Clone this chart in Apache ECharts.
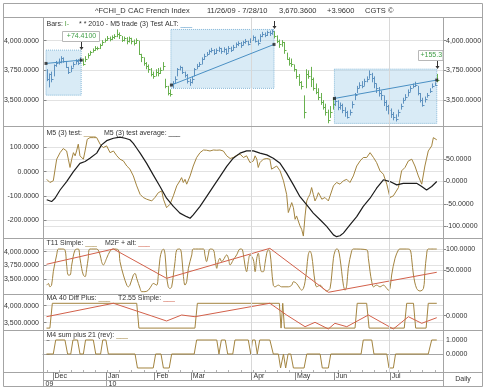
<!DOCTYPE html>
<html><head><meta charset="utf-8">
<script src="https://cdn.jsdelivr.net/npm/echarts@6/dist/echarts.min.js"></script>
<style>html,body{margin:0;padding:0;background:#fff}#c{width:490px;height:390px}</style>
</head><body><div id="c"></div><script>
// ---------------- DATA ----------------
const monthNames = ['Dec','Jan','Feb','Mar','Apr','May','Jun','Jul'];
const monthStarts = [3, 25, 45, 60, 85, 103, 119, 142];   // day index of first bar of month
const yearNames = ['09','10'];
const yearStarts = [0, 25];
const quarterStarts = [85, 142];

const closes = [3679,3721,3680,3793,3810,3822,3856,3832,3777,3740,3771,3806,3830,3816,3837,
3800,3850,3880,3905,3925,3940,3935,3960,
3990,4010,4025,4015,4030,4040,4060,4045,4010,4025,3995,4020,4000,3985,4010,3890,
3860,3810,3790,3760,3720,3700,3740,3730,3750,3790,3620,3560,3550,
3640,3680,3760,3775,3740,3715,3665,3650,3680,3760,3790,3800,3850,3870,3890,3910,3925,3900,3920,3935,3910,3930,3900,3940,3925,3950,3970,3985,3960,3990,4000,3975,4010,4030,4000,3985,4040,4060,4050,4075,4065,4085,
4040,4000,3970,3990,3920,3850,3810,3800,3760,3700,3650,3620,3400,3720,3700,3680,3600,3570,3530,3480,3440,3400,3330,3400,3470,
3490,3440,3460,3420,3400,3360,3400,3470,3540,3600,3630,3620,3660,3680,3720,3690,3640,3600,3560,3540,3480,3450,3420,3380,3360,3340,3400,3450,3500,3530,3570,3600,3620,3630,3560,3500,3460,3510,3540,3580,3620,3630,3670];
const highs = [3760,3725,3740,3800,3830,3850,3870,3860,3830,3780,3790,3820,3845,3845,3860,
3850,3870,3895,3915,3935,3955,3950,3975,
4005,4020,4040,4035,4045,4055,4095,4070,4040,4035,4030,4035,4025,4010,4020,4000,
3890,3860,3820,3800,3770,3740,3760,3770,3775,3820,3680,3620,3590,
3660,3700,3770,3790,3780,3740,3720,3680,3700,3770,3805,3820,3860,3890,3905,3925,3940,3930,3935,3950,3940,3945,3935,3955,3950,3965,3985,3995,3990,4000,4015,4000,4020,4045,4035,4010,4055,4075,4070,4085,4085,4095,
4080,4045,4010,4005,3990,3900,3860,3850,3800,3760,3720,3660,3540,3760,3750,3780,3690,3640,3600,3560,3500,3470,3420,3450,3520,
3530,3500,3480,3470,3440,3410,3420,3490,3560,3620,3650,3660,3680,3700,3750,3730,3700,3640,3610,3580,3540,3500,3460,3430,3400,3380,3420,3470,3520,3550,3590,3620,3640,3655,3620,3560,3520,3530,3560,3600,3640,3650,3720];
const lows = [3660,3607,3650,3700,3780,3800,3810,3815,3770,3720,3735,3775,3800,3795,3815,
3790,3820,3850,3880,3900,3915,3920,3930,
3960,3985,4000,3995,4005,4015,4030,4015,3990,3995,3970,3985,3970,3960,3975,3880,
3820,3790,3760,3730,3700,3680,3700,3700,3720,3750,3600,3540,3530,
3600,3640,3700,3750,3720,3690,3640,3620,3640,3700,3760,3780,3800,3840,3870,3885,3900,3880,3890,3905,3890,3900,3880,3900,3905,3920,3940,3955,3940,3960,3975,3960,3980,4000,3985,3960,3990,4030,4030,4040,4040,4050,
4020,3980,3940,3950,3890,3840,3790,3780,3740,3680,3620,3590,3346,3600,3680,3610,3580,3550,3500,3460,3420,3370,3305,3350,3420,
3450,3415,3420,3390,3360,3345,3370,3430,3500,3560,3600,3600,3620,3650,3680,3650,3600,3560,3530,3500,3450,3410,3380,3350,3330,3320,3360,3420,3470,3500,3530,3570,3600,3610,3540,3480,3445,3480,3520,3560,3600,3620,3650];

// study boxes: [fromDay, toDay, low, high]
const boxes = [[-0.2,14.3,3542,3921],[51.3,93.8,3599,4095],[118.7,160.9,3304,3761]];
const trendLines = [[[-0.2,3809],[14.3,3837]],[[51.5,3627],[93.8,3969]],[[118.7,3514],[160.9,3669]]];
const boxLabels = ['+74.4100', '', '+155.3'];

const m5Test = [[0.1,-32],[1.4,-45],[2.8,-38],[4.2,51],[5.6,78],[6.9,95],[8.3,85],[9.0,51],[9.7,17],[10.4,51],[11.1,78],[11.8,65],[12.4,85],[13.1,113],[13.8,65],[14.5,72],[15.2,51],[15.9,85],[16.8,133],[17.9,140],[18.6,133],[19.3,140],[20.7,140],[22.1,113],[23.4,99],[24.8,106],[26.2,78],[27.6,85],[29.0,65],[30.3,51],[31.7,44],[33.1,23],[34.4,10],[35.8,-18],[37.2,-59],[38.6,-94],[39.9,-107],[41.3,-114],[43.4,-121],[44.7,-107],[46.1,-87],[47.5,-80],[48.2,-114],[49.5,-149],[50.9,-135],[52.3,-100],[53.7,-59],[55.0,-38],[55.7,-25],[56.4,-45],[57.1,-32],[57.8,-52],[59.2,-18],[60.5,23],[61.9,58],[63.3,78],[64.7,89],[66.0,88],[67.4,85],[68.8,89],[70.2,88],[71.5,89],[72.9,85],[74.3,65],[75.7,54],[77.0,58],[78.4,67],[79.8,72],[81.2,58],[82.5,65],[83.9,37],[85.3,44],[86.0,65],[86.7,51],[87.3,17],[88.0,37],[89.4,51],[90.8,54],[92.1,51],[92.8,10],[93.5,3],[94.9,23],[96.3,3],[97.7,-38],[99.0,-94],[99.7,-169],[100.4,-149],[101.1,-128],[101.8,-149],[102.5,-197],[103.1,-183],[104.5,-224],[105.2,-238],[105.9,-266],[106.6,-183],[107.3,-121],[107.9,-107],[108.6,-94],[109.3,-66],[110.0,-94],[110.7,-121],[111.4,-107],[112.1,-87],[112.8,-100],[113.5,-114],[114.8,-107],[116.2,-121],[116.9,-128],[118.3,-59],[119.6,-45],[121.0,-52],[122.4,-38],[123.8,-32],[125.1,-45],[126.5,-18],[127.9,23],[129.3,44],[130.6,58],[132.0,58],[133.4,78],[134.8,58],[136.1,37],[137.5,3],[138.9,-11],[140.3,-52],[141.6,-107],[143.0,-100],[143.7,-107],[145.1,-66],[146.4,3],[147.8,17],[149.2,44],[150.6,51],[151.9,23],[153.3,-18],[154.7,-52],[156.0,23],[157.4,85],[158.8,106],[159.5,140],[160.9,131]];
const m5Avg = [[0.1,-41],[2.1,-45],[3.5,-37.5],[5.6,-19],[8.3,0],[11.1,22.5],[13.8,41],[15.9,45],[17.9,52.5],[20.7,64],[22.7,82.5],[24.8,92],[27.6,97.5],[30.3,100],[32.4,97.5],[34.4,94],[35.8,86],[37.2,75],[38.6,64],[41.3,41],[44.0,15],[46.8,-11],[49.5,-37.5],[52.3,-56],[55.0,-71],[57.8,-79],[59.2,-82.5],[60.5,-75],[63.3,-56],[66.0,-34],[68.8,-11],[71.5,11],[74.3,34],[77.0,52.5],[79.8,64],[82.5,69],[85.3,69],[88.0,64],[90.8,60],[93.5,52.5],[96.3,41],[99.0,19],[101.8,-7.5],[104.5,-34],[107.3,-52.5],[110.0,-71],[112.8,-86],[115.5,-101],[118.3,-120],[119.6,-124],[121.0,-122],[122.4,-116],[125.1,-97.5],[127.9,-79],[130.6,-56],[133.4,-37.5],[136.1,-15],[138.9,4],[141.6,0],[144.4,-7.5],[147.1,-4],[149.9,-4],[152.6,-4],[154.7,-11],[156.7,-19],[158.8,-11],[160.9,0]];
const t11Simple = [[0.1,14],[0.8,18],[1.4,10],[2.1,14],[2.8,46],[4.2,86],[4.9,100],[6.3,100],[7.6,98],[8.3,62],[9.0,38],[9.7,38],[10.4,62],[11.8,98],[13.1,100],[13.8,78],[14.5,54],[15.2,38],[15.9,34],[16.6,54],[17.2,78],[17.9,100],[20.7,100],[22.1,86],[22.7,70],[23.4,62],[24.8,78],[26.2,95],[27.6,100],[29.6,98],[30.3,70],[31.7,38],[33.1,14],[33.7,10],[34.4,14],[35.8,38],[36.5,42],[37.2,30],[38.6,6],[39.2,-1.5],[40.6,-1.5],[42.0,2],[43.4,14],[44.0,18],[45.4,14],[46.1,38],[46.8,78],[47.5,95],[48.2,100],[48.9,86],[49.5,38],[50.2,10],[50.9,6],[51.6,10],[52.3,38],[53.0,70],[53.7,98],[55.0,100],[55.7,86],[56.4,38],[57.1,14],[57.8,22],[58.5,54],[59.9,86],[60.5,100],[64.7,100],[65.3,86],[66.0,70],[66.7,86],[67.4,100],[68.8,98],[69.5,78],[70.2,54],[70.8,70],[71.5,78],[72.2,70],[72.9,74],[74.3,86],[75.0,78],[75.7,62],[77.0,74],[78.4,86],[79.8,100],[80.5,100],[81.2,86],[81.8,62],[82.5,46],[83.2,70],[83.9,86],[85.3,74],[86.0,46],[86.7,78],[87.3,90],[88.0,62],[88.7,46],[89.4,46],[90.1,66],[90.8,90],[91.5,98],[92.1,94],[92.8,54],[93.5,14],[94.2,10],[95.6,14],[96.9,10],[99.7,10],[101.1,14],[101.8,22],[103.1,18],[104.5,6],[105.2,2],[105.9,6],[106.6,22],[107.3,54],[107.9,86],[108.6,95],[109.3,86],[110.0,54],[110.7,22],[111.4,10],[112.8,14],[114.1,6],[115.5,0],[116.2,2],[116.9,6],[117.6,38],[118.3,78],[118.9,94],[119.6,100],[120.3,98],[121.0,78],[121.7,46],[122.4,14],[123.1,2],[123.8,14],[124.4,54],[125.8,95],[126.5,100],[132.0,98],[132.7,78],[133.4,46],[134.1,22],[134.8,10],[136.1,14],[137.5,10],[138.9,14],[140.3,6],[140.9,2],[141.6,6],[142.3,38],[143.7,78],[145.1,98],[145.7,100],[148.5,100],[149.9,98],[150.6,74],[151.3,38],[152.6,6],[154.0,0],[155.4,6],[156.0,46],[156.7,86],[157.4,100],[160.9,100]];
const m2fAlt = [[0,3772],[27.6,4049],[49.5,3518],[92.1,4061],[116.2,3265],[160.9,3627]];
const ma40DiffPlus = [[0,-1],[1.4,-1],[2.4,1],[37.2,1],[38.1,-1],[61.2,-1],[62.2,1],[96.0,1],[96.7,-1],[97.4,1],[98.1,-1],[127.2,-1],[128.1,1],[132.0,1],[133.0,-1],[147.5,-1],[148.5,1],[151.3,1],[152.2,-1],[156.5,-1],[157.4,1],[160.9,1]];
const t255Simple = [[0,3676],[27.6,4071],[43.4,3697],[49.5,3550],[55.7,3726],[61.2,3676],[92.1,4071],[99.0,3726],[106.6,3382],[110.7,3511],[116.2,3315],[118.9,3482],[123.8,3382],[132.7,3726],[143.0,3315],[149.2,3676],[154.7,3482],[160.9,3647]];
const m4SumPlus21 = [[0,0],[2.8,0],[3.8,1],[7.6,1],[8.7,0],[10.0,0],[10.9,1],[12.8,1],[13.8,0],[15.2,0],[16.1,1],[19.3,1],[20.3,0],[22.3,0],[23.2,1],[24.5,1],[25.5,0],[36.5,0],[37.5,-1],[44.0,-1],[45.0,0],[47.2,0],[48.2,-1],[50.6,-1],[51.6,0],[60.9,0],[61.9,1],[70.2,1],[71.1,0],[72.1,1],[73.7,1],[74.7,0],[76.8,0],[77.7,1],[83.2,1],[84.2,0],[84.9,1],[86.0,1],[86.9,0],[87.9,1],[92.1,1],[93.5,0],[95.6,0],[96.5,-1],[97.7,0],[98.6,-1],[99.6,0],[100.7,0],[101.8,-1],[106.2,-1],[107.3,0],[112.8,0],[113.7,-1],[116.2,-1],[117.2,0],[129.7,0],[130.6,1],[134.1,1],[135.0,0],[140.3,0],[141.2,-1],[143.0,-1],[143.9,0],[157.4,0],[158.8,1],[160.9,1]];

// axis tick values
const priceTicks = [3500, 3750, 4000];
const m5LeftTicks = [-200, -100, 0, 100];
const m5RightTicks = [-100, -50, 0, 50];
const t11LeftTicks = [3500, 3750, 4000];
const t11RightTicks = [50, 100];
const ma40LeftTicks = [3500, 4000];
const ma40RightTicks = [0];
const m4RightTicks = [0, 1];

const titleParts = ['^FCHI_D', 'CAC French Index', '11/26/09 - 7/28/10', '3,670.3600', '+3.9600', 'CGTS \u00A9'];

// ---------------- STYLE ----------------
const FONT = '"Liberation Sans", Arial, Helvetica, sans-serif';
const BROWN = '#a3843f', RED = '#d2604a', BLACK = '#1c1c1c';
const GREEN = '#68b04e', BLUE = '#5f92bf', TREND = '#4a90c4';
const FRAME = '#a4a4a4', GRIDC = '#e2e2e2', TXT = '#333';
const XMIN = -1.443, XMAX = 163.47;
const gridsPx = [[17,109],[126,112],[238,56],[294,36],[330,42]];

function fmt(v){
  const s = Math.abs(v).toFixed(4).split('.');
  return (v < 0 ? '-' : '') + s[0].replace(/\B(?=(\d{3})+(?!\d))/g, ',') + '.' + s[1];
}
function yax(grid, pos, min, max, ticks){
  return {type:'value', gridIndex:grid, position:pos, min:min, max:max,
    axisLine:{show:false},
    axisTick:{show:true, customValues:ticks, length:3, lineStyle:{color:'#888'}},
    axisLabel:{show:true, customValues:ticks, formatter:fmt, fontSize:7, fontFamily:FONT, color:TXT, margin: pos==='left'?4:3},
    splitLine:{show:true, lineStyle:{color:GRIDC, width:1}}};
}
const monthTicks = monthStarts.map(s => s - 0.5);
function inBox(i){ return boxes.some(b => i >= b[0] && i <= b[1]); }
const quarterMark = {silent:true, symbol:['none','none'], label:{show:false},
  lineStyle:{color:'#d8d8d8', type:'solid', width:1},
  data: quarterStarts.map(q => ({xAxis: q - 0.5}))};

function lineSeries(data, xi, yi, color, extra){
  return Object.assign({type:'line', data:data, xAxisIndex:xi, yAxisIndex:yi, showSymbol:false, symbol:'none',
    lineStyle:{color:color, width:1}, itemStyle:{color:color}, clip:true, z:3}, extra||{});
}

const chart = echarts.init(document.getElementById('c'), null, {renderer:'canvas'});
const option = {
  animation:false,
  backgroundColor:'#fff',
  grid: gridsPx.map(g => ({left:43, right:47, top:g[0], height:g[1]})),
  xAxis: [0,1,2,3,4].map(k => {
    const base = {type:'value', gridIndex:k, min:XMIN, max:XMAX, splitLine:{show:false}};
    if (k < 4) return Object.assign(base, {show:false});
    return Object.assign(base, {show:true, position:'bottom',
      axisLine:{show:true, lineStyle:{color:FRAME}},
      axisTick:{show:false, customValues:monthTicks},
      axisLabel:{show:true, customValues:monthTicks, align:'left', margin:1, padding:[0,0,0,2],
        fontSize:7, fontFamily:FONT, color:TXT,
        formatter: v => { let bi = 0, bd = 1e9; monthTicks.forEach((t,j)=>{ if (Math.abs(t-v) < bd){bd=Math.abs(t-v); bi=j;} }); return monthNames[bi]; }}
    });
  }),
  yAxis: [
    yax(0,'left',3282,4200,priceTicks),
    yax(0,'right',3282,4200,priceTicks),
    yax(1,'left',-274,188,m5LeftTicks),
    yax(1,'right',-127,125,m5RightTicks),
    yax(2,'left',3234,4248,t11LeftTicks),
    yax(2,'right',-7.1,126.2,t11RightTicks),
    yax(3,'left',3285,4344,ma40LeftTicks),
    yax(3,'right',-1.153,1.75,ma40RightTicks),
    yax(4,'right',-1.286,1.714,m4RightTicks)
  ],
  series: [
    { type:'custom', xAxisIndex:0, yAxisIndex:0, z:4, clip:true,
      data: closes.map((c,i) => [i, highs[i], lows[i], c]),
      encode:{x:0, y:[1,2,3]},
      renderItem: function(params, api){
        const i = api.value(0);
        const pH = api.coord([i, api.value(1)]);
        const pL = api.coord([i, api.value(2)]);
        const pC = api.coord([i, api.value(3)]);
        const x = Math.round(pH[0]) + 0.5;
        const yc = Math.round(pC[1]) + 0.5;
        const col = inBox(i) ? BLUE : GREEN;
        return {type:'group', children:[
          {type:'line', shape:{x1:x, y1:pH[1], x2:x, y2:pL[1]}, style:{stroke:col, lineWidth:1}},
          {type:'line', shape:{x1:x, y1:yc, x2:x+2, y2:yc}, style:{stroke:col, lineWidth:1}}
        ]};
      }
    },
    { type:'scatter', xAxisIndex:0, yAxisIndex:0, z:5, symbol:'rect', symbolSize:3,
      itemStyle:{color:'#222'},
      data: trendLines.reduce((a,t) => a.concat([t[0], t[1]]), []),
      markArea:{silent:true, z:1,
        itemStyle:{color:'rgba(170,210,236,0.45)', borderColor:'#86b8d8', borderWidth:1, borderType:'dotted'},
        data: boxes.map(b => [{coord:[b[0], b[3]]}, {coord:[b[1], b[2]]}])},
      markLine:{silent:true, symbol:['none','none'], label:{show:false},
        data: quarterStarts.map(q => ({xAxis:q-0.5, lineStyle:{color:'#d8d8d8', width:1, type:'solid'}}))
          .concat(trendLines.map(t => [{coord:t[0], lineStyle:{color:TREND, width:1, type:'solid'}}, {coord:t[1]}]))}
    },
    lineSeries(m5Test, 1, 2, BROWN, {markLine: quarterMark}),
    lineSeries(m5Avg, 1, 3, BLACK, {lineStyle:{color:BLACK, width:1.2}}),
    lineSeries(t11Simple, 2, 5, BROWN, {smooth:0.35, markLine: quarterMark}),
    lineSeries(m2fAlt, 2, 4, RED, {z:4}),
    lineSeries(ma40DiffPlus, 3, 7, BROWN, {markLine: quarterMark}),
    lineSeries(t255Simple, 3, 6, RED, {z:4}),
    lineSeries(m4SumPlus21, 4, 8, BROWN, {markLine: quarterMark})
  ]
};
chart.setOption(option);

// ---------------- GRAPHICS (frame, texts, annotations) ----------------
const G = [];
function L(x1,y1,x2,y2,c,w){ G.push({type:'line', silent:true, z:50, shape:{x1:x1,y1:y1,x2:x2,y2:y2}, style:{stroke:c||FRAME, lineWidth:w||1}}); }
function T(x,y,text,opt){ G.push({type:'text', silent:true, z:60, x:x, y:y, style:Object.assign({text:text, font:'7px '+FONT, fill:TXT, align:'left', verticalAlign:'middle'}, opt||{})}); }
function px4(v){ return Math.round(chart.convertToPixel({xAxisIndex:4, yAxisIndex:8}, [v, 0])[0]) + 0.5; }

// frame
G.push({type:'rect', silent:true, z:50, shape:{x:3.5, y:3.5, width:479, height:383}, style:{fill:'none', stroke:FRAME, lineWidth:1}});
[17.5, 126.5, 238.5, 294.5, 330.5, 372.5].forEach(y => L(3, y, 483, y));
L(43.5, 17, 43.5, 387); L(443.5, 17, 443.5, 387);
L(43, 380.5, 443, 380.5);

// month tick marks in the date row
monthTicks.forEach(t => { const x = px4(t); L(x, 372, x, 380, '#8a8a8a', 1); });
// small dotted ticks along the top of the date axis (weekly)
for (let d = 0; d <= 161; d += 5) { const x = px4(d); L(x, 370, x, 372, '#b0b0b0', 1); }

// title
const titleX = [95, 128, 207, 279, 327, 365];
titleParts.forEach((t,k) => T(titleX[k], 10.5, t, {font:'7.5px '+FONT}));

// panel legends
function legend(x, y, label, color){
  G.push({type:'text', silent:true, z:60, x:x, y:y, style:{text:'{a|'+label+' }{u|___}', font:'7px '+FONT, verticalAlign:'middle',
    rich:{a:{fill:TXT, font:'7px '+FONT}, u:{fill:color, font:'7px '+FONT}}}});
}
G.push({type:'text', silent:true, z:60, x:46.5, y:24.5, style:{text:'{a|Bars: }{g|I-}', font:'7px '+FONT, verticalAlign:'middle',
  rich:{a:{fill:TXT, font:'7px '+FONT}, g:{fill:'#4a9a3a', font:'7px '+FONT}}}});
legend(79, 24.5, '* * 2010 - M5 trade (3) Test ALT:', TREND);
legend(46.5, 133.5, 'M5 (3) test:', BROWN);
legend(104, 133.5, 'M5 (3) test average:', BLACK);
legend(46.5, 243.5, 'T11 Simple:', BROWN);
legend(105, 243.5, 'M2F + alt:', RED);
legend(46.5, 298.5, 'MA 40 Diff Plus:', BROWN);
legend(118, 298.5, 'T2.55 Simple:', RED);
legend(46.5, 335, 'M4 sum plus 21 (rev):', BROWN);

// year row
yearNames.forEach((y,k) => {
  const px = k === 0 ? 43.5 : px4(yearStarts[k]-0.5);
  if (k > 0) L(px, 380.5, px, 387);
  T(px + 2, 384, y);
});
T(463, 379.5, 'Daily', {align:'center'});

// box annotations (labels with arrows)
boxes.forEach((b,k) => {
  const p = chart.convertToPixel({xAxisIndex:0, yAxisIndex:0}, [b[1], b[3]]);
  const px = Math.round(p[0]) + 0.5, py = Math.round(p[1]);
  const ac = '#333';
  L(px, py-8, px, py-2, ac, 1);
  G.push({type:'polygon', silent:true, z:55, shape:{points:[[px-2,py-3],[px+2,py-3],[px,py]]}, style:{fill:ac}});
  if (boxLabels[k]) {
    if (k === 0) {
      G.push({type:'rect', silent:true, z:52, shape:{x:px-19, y:py-18.5, width:37, height:10}, style:{fill:'#fff', stroke:'#b8b8b8', lineWidth:1}});
      T(px, py-13.5, boxLabels[k], {align:'center', fill:'#3f9e46'});
    } else {
      G.push({type:'rect', silent:true, z:52, shape:{x:px-19, y:py-18.5, width:443-(px-19), height:10}, style:{fill:'#fff', stroke:'#b8b8b8', lineWidth:1}});
      T(px-17, py-13.5, boxLabels[k], {fill:'#3f9e46'});
    }
  }
});

chart.setOption({graphic:{elements:G}});
</script></body></html>
